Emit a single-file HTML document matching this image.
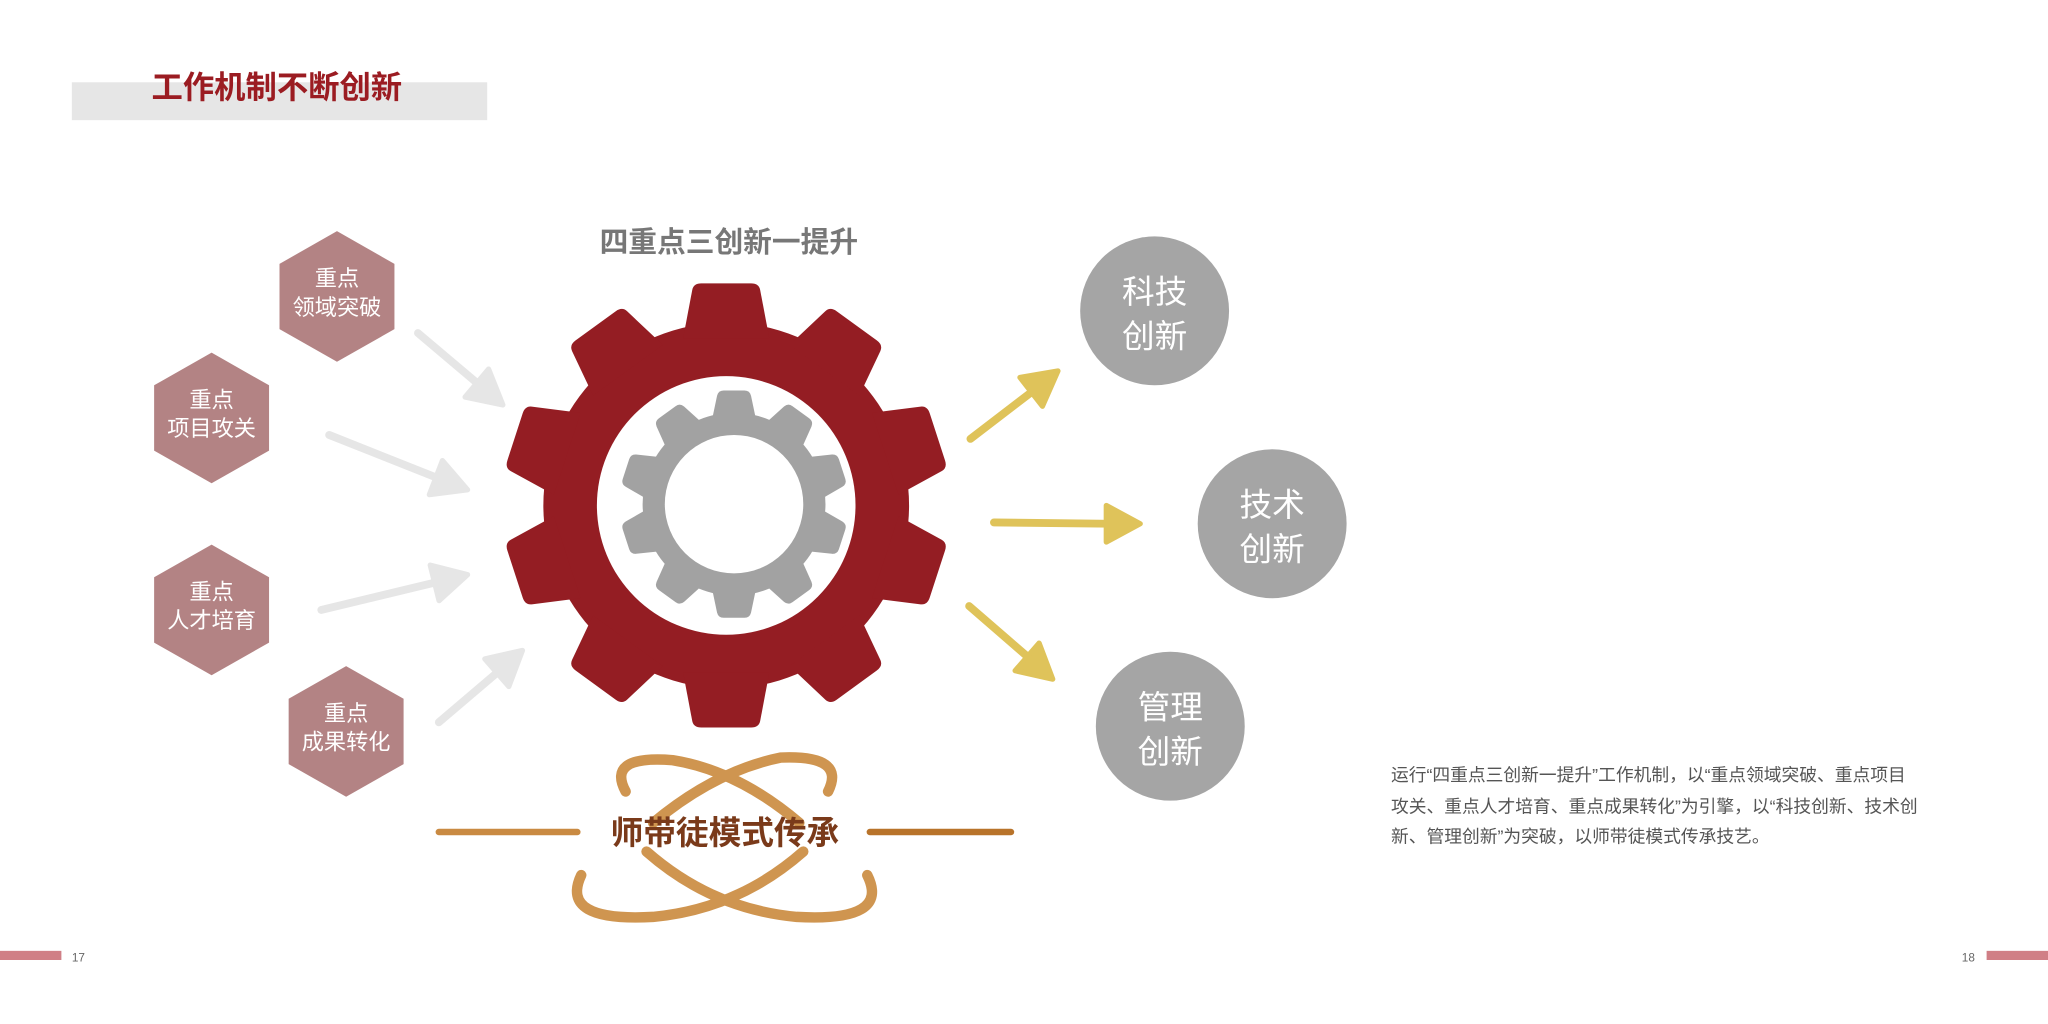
<!DOCTYPE html>
<html><head><meta charset="utf-8"><style>
html,body{margin:0;padding:0;background:#fff;}
svg{display:block;font-family:"Liberation Sans","Noto Sans CJK SC",sans-serif;}
</style></head><body>
<svg width="2048" height="1024" viewBox="0 0 1568 784" xmlns="http://www.w3.org/2000/svg">
<defs>
<g id="rt"><path d="M-33,-128 L-26,-165 Q-25,-170 -19,-170 L19,-170 Q25,-170 26,-165 L33,-128 Z" fill="#941d23"/></g>
<g id="gt"><path d="M-17,-64 L-13,-83 Q-12,-87 -8,-87 L8,-87 Q12,-87 13,-83 L17,-64 Z" fill="#a2a2a2"/></g>
<g id="ah"><path d="M0,0 L-26,-14 L-26,14 Z"/></g>
</defs>
<rect x="55" y="63" width="318" height="29" fill="#e6e6e6"/>
<text x="116" y="75" font-size="24" font-weight="bold" fill="#9b1c22">工作机制不断创新</text>
<text x="558" y="193" font-size="22" font-weight="bold" fill="#777" text-anchor="middle">四重点三创新一提升</text>

<g transform="translate(556,387)">
<circle r="140" fill="#941d23"/>
<use href="#rt"/><use href="#rt" transform="rotate(36)"/><use href="#rt" transform="rotate(72)"/><use href="#rt" transform="rotate(108)"/><use href="#rt" transform="rotate(144)"/><use href="#rt" transform="rotate(180)"/><use href="#rt" transform="rotate(216)"/><use href="#rt" transform="rotate(252)"/><use href="#rt" transform="rotate(288)"/><use href="#rt" transform="rotate(324)"/>
<circle r="99" fill="#fff"/>
</g>
<g transform="translate(562,386)">
<circle r="70" fill="#a2a2a2"/>
<use href="#gt"/><use href="#gt" transform="rotate(36)"/><use href="#gt" transform="rotate(72)"/><use href="#gt" transform="rotate(108)"/><use href="#gt" transform="rotate(144)"/><use href="#gt" transform="rotate(180)"/><use href="#gt" transform="rotate(216)"/><use href="#gt" transform="rotate(252)"/><use href="#gt" transform="rotate(288)"/><use href="#gt" transform="rotate(324)"/>
<circle r="53" fill="#fff"/>
</g>

<g fill="#b38384">
<polygon points="258,177 302,202 302,252 258,277 214,252 214,202"/>
<polygon points="162,270 206,295 206,345 162,370 118,345 118,295"/>
<polygon points="162,417 206,442 206,492 162,517 118,492 118,442"/>
<polygon points="265,510 309,535 309,585 265,610 221,585 221,535"/>
</g>
<g fill="#fff" font-size="17" text-anchor="middle">
<text x="258" y="219">重点</text><text x="258" y="241">领域突破</text>
<text x="162" y="312">重点</text><text x="162" y="334">项目攻关</text>
<text x="162" y="459">重点</text><text x="162" y="481">人才培育</text>
<text x="265" y="552">重点</text><text x="265" y="574">成果转化</text>
</g>

<g stroke="#e6e6e6" stroke-width="6" stroke-linecap="round" fill="#e6e6e6">
<line x1="320" y1="255" x2="365" y2="293"/>
<line x1="252" y1="333" x2="335" y2="366"/>
<line x1="246" y1="467" x2="333" y2="446"/>
<line x1="336" y1="553" x2="383" y2="513"/>
</g>
<g fill="#e6e6e6" stroke="#e6e6e6" stroke-width="4" stroke-linejoin="round">
<use href="#ah" transform="translate(385,310) rotate(40)"/>
<use href="#ah" transform="translate(358,375) rotate(21)"/>
<use href="#ah" transform="translate(358,440) rotate(-14)"/>
<use href="#ah" transform="translate(400,498) rotate(-41)"/>
</g>

<g stroke="#dfc35a" stroke-width="6" stroke-linecap="round">
<line x1="743" y1="336" x2="790" y2="300"/>
<line x1="761" y1="400" x2="850" y2="401"/>
<line x1="742" y1="464" x2="787" y2="503"/>
</g>
<g fill="#dfc35a" stroke="#dfc35a" stroke-width="4" stroke-linejoin="round">
<use href="#ah" transform="translate(810,284) rotate(-38)"/>
<use href="#ah" transform="translate(873,401) rotate(0)"/>
<use href="#ah" transform="translate(806,520) rotate(41)"/>
</g>

<g fill="#a5a5a5">
<circle cx="884" cy="238" r="57"/><circle cx="974" cy="401" r="57"/><circle cx="896" cy="556" r="57"/>
</g>
<g fill="#fff" font-size="25" text-anchor="middle">
<text x="884" y="232">科技</text><text x="884" y="266">创新</text>
<text x="974" y="395">技术</text><text x="974" y="429">创新</text>
<text x="896" y="550">管理</text><text x="896" y="584">创新</text>
</g>

<g fill="none" stroke="#cf9550" stroke-width="8" stroke-linecap="round">
<path d="M479,606 Q464,578 515,582 Q565,590 612,630"/>
<path d="M634,606 Q648,578 598,580 Q548,590 500,630"/>
<path d="M445,670 Q428,706 500,702 Q565,696 615,652"/>
<path d="M664,670 Q682,706 610,702 Q545,696 495,652"/>
</g>
<line x1="336" y1="637" x2="442" y2="637" stroke="#c98a42" stroke-width="5" stroke-linecap="round"/>
<line x1="666" y1="637" x2="774" y2="637" stroke="#b8732a" stroke-width="5" stroke-linecap="round"/>
<text x="555" y="646" font-size="25" font-weight="bold" fill="#7a3a1a" text-anchor="middle">师带徒模式传承</text>

<g font-size="13.6" fill="#555">
<text x="1065" y="598">运行“四重点三创新一提升”工作机制，以“重点领域突破、重点项目</text>
<text x="1065" y="622">攻关、重点人才培育、重点成果转化”为引擎，以“科技创新、技术创</text>
<text x="1065" y="645">新、管理创新”为突破，以师带徒模式传承技艺。</text>
</g>

<rect x="0" y="728" width="47" height="7" fill="#d07f86"/>
<text x="55" y="736" font-size="9" fill="#666">17</text>
<rect x="1521" y="728" width="47" height="7" fill="#d07f86"/>
<text x="1502" y="736" font-size="9" fill="#666">18</text>
</svg>
</body></html>
